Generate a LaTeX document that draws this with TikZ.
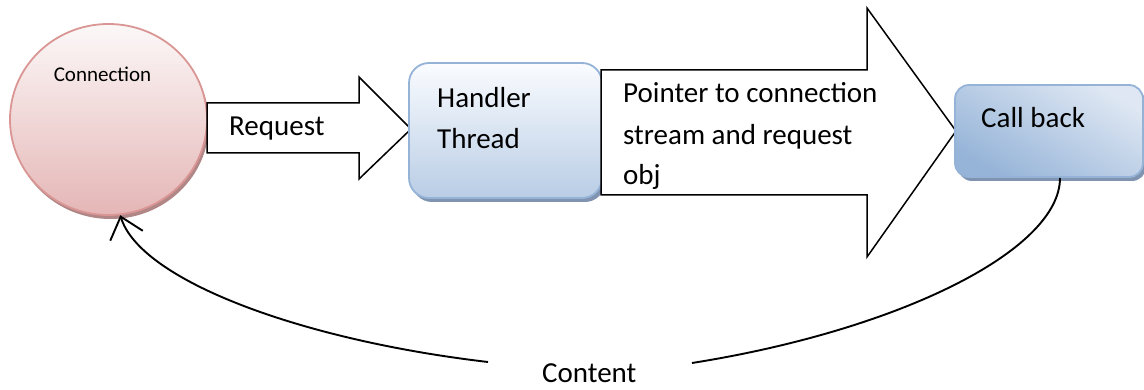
\documentclass[tikz,border=0pt]{standalone}
\usepackage{fontspec}
\setmainfont{Carlito}
\usetikzlibrary{shapes.geometric,shadows,arrows.meta}

\definecolor{pinktop}{RGB}{252,248,248}
\definecolor{pinkbot}{RGB}{229,182,182}
\definecolor{pinkedge}{RGB}{217,150,148}
\definecolor{pinkshadow}{RGB}{176,134,134}
\definecolor{bluetop}{RGB}{250,252,255}
\definecolor{bluebot}{RGB}{185,205,229}
\definecolor{blueedge}{RGB}{149,179,215}
\definecolor{blueshadow}{RGB}{128,148,178}
\definecolor{cbdark}{RGB}{150,180,216}
\definecolor{cblight}{RGB}{222,231,243}

\begin{document}
\begin{tikzpicture}[x=1pt,y=-1pt,
  bigtxt/.style={font=\fontsize{29}{35}\selectfont, inner sep=0pt, anchor=base west},
  smalltxt/.style={font=\fontsize{21}{25}\selectfont, inner sep=0pt, anchor=base},
  blockarrow/.style={draw=black, line width=1.5pt, fill=white, line join=miter},
  conncircle/.style={ellipse, minimum width=197pt, minimum height=191pt, inner sep=0pt,
    draw=pinkedge, line width=1.8pt, top color=pinktop, bottom color=pinkbot,
    drop shadow={shadow xshift=2pt, shadow yshift=-4pt, fill=pinkshadow, opacity=1}},
  bluebox/.style={rectangle, rounded corners=20pt, inner sep=0pt,
    draw=blueedge, line width=1.8pt,
    drop shadow={shadow xshift=3pt, shadow yshift=-4pt, fill=blueshadow, opacity=1}},
  flow/.style={line width=1.9pt, draw=black}
]
\useasboundingbox (0,0) rectangle (1144,390);

% connection endpoint
\node[conncircle] (conn) at (108.5,119.5) {};
\node[smalltxt] (conntxt) at (102.5,82) {Connection};

% request block arrow
\draw[blockarrow] (207,103) -- (359,103) -- (359,77) -- (411,129)
  -- (359,179) -- (359,153) -- (207,153) -- cycle;
\node[bigtxt] (reqtxt) at (229,136) {Request};

% handler thread box
\node[bluebox, minimum width=193pt, minimum height=135pt,
  top color=bluetop, bottom color=bluebot] (handler) at (505.5,130.5) {};
\node[bigtxt] (hnd1) at (437,108) {Handler};
\node[bigtxt] (hnd2) at (437,149) {Thread};

% pointer block arrow
\draw[blockarrow] (601,70) -- (867,70) -- (867,8) -- (956,131)
  -- (867,257) -- (867,195) -- (601,195) -- cycle;
\node[bigtxt] (ptr1) at (623,103) {Pointer to connection};
\node[bigtxt] (ptr2) at (623,145) {stream and request};
\node[bigtxt] (ptr3) at (623,185) {obj};

% callback box
\node[bluebox, rounded corners=14pt, minimum width=188pt, minimum height=92pt,
  left color=cbdark, right color=cblight, shading angle=150] (callback) at (1049,131) {};
\node[bigtxt] (cbtxt) at (981,128) {Call back};

% returned content
\node[bigtxt] (content) at (542,382) {Content};
\coordinate (cbfoot) at (1060,178);
\coordinate (rcend) at (692,363);
\coordinate (lcstart) at (488,362);

\draw[flow] (cbfoot) .. controls (1060,250) and (900,330) .. (rcend);
\draw[flow, -{Straight Barb[length=20pt, width=34pt, line width=1.9pt]}]
  (lcstart) .. controls (300,340) and (140,280) .. (conn.-83);
\end{tikzpicture}
\end{document}
